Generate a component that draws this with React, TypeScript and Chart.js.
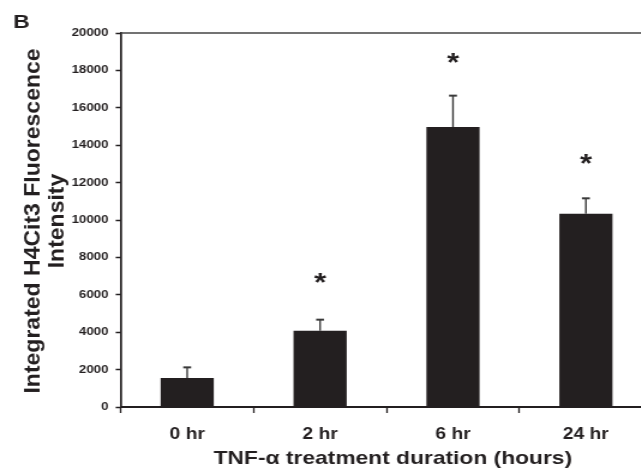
import React, { useEffect, useRef } from 'react';
import { Chart, registerables } from 'chart.js';

Chart.register(...registerables);

// ---- data ----
const categories = ['0 hr', '2 hr', '6 hr', '24 hr'];
const meanIntensity = [1550, 4080, 14970, 10330];
const semIntensity = [570, 590, 1680, 830];
const significanceMarkY: (number | null)[] = [null, 6880, 18650, 13250];
const yMin = 0;
const yMax = 20000;
const yStep = 2000;
const yTitleLines = ['Integrated H4Cit3 Fluorescence', 'Intensity'];
const xTitle = 'TNF-α treatment duration (hours)';

// ---- look ----
const STRETCH = 1.2; // the reference is horizontally stretched
const CW = 560;
const CH = 472;
const FONT = '"Liberation Sans", Arial, Helvetica, sans-serif';
const INK = '#231f20';

const decorPlugin = {
  id: 'decor',
  afterDatasetsDraw(chart: any) {
    const ctx = chart.ctx as CanvasRenderingContext2D;
    const xs = chart.scales.x;
    const ys = chart.scales.y;
    ctx.save();
    ctx.strokeStyle = '#3a3a3a';
    meanIntensity.forEach((v, i) => {
      const px = xs.getPixelForValue(i);
      const top = ys.getPixelForValue(v + semIntensity[i]);
      const base = ys.getPixelForValue(v);
      ctx.lineWidth = 1.4;
      ctx.beginPath();
      ctx.moveTo(px, base);
      ctx.lineTo(px, top);
      ctx.stroke();
      ctx.lineWidth = 2;
      ctx.beginPath();
      ctx.moveTo(px - 3.3, top);
      ctx.lineTo(px + 3.3, top);
      ctx.stroke();
    });
    ctx.fillStyle = INK;
    ctx.font = `bold 26px ${FONT}`;
    ctx.textAlign = 'center';
    ctx.textBaseline = 'alphabetic';
    const m = ctx.measureText('*');
    const off = (m.actualBoundingBoxAscent - m.actualBoundingBoxDescent) / 2;
    significanceMarkY.forEach((v, i) => {
      if (v == null) return;
      ctx.fillText('*', xs.getPixelForValue(i), ys.getPixelForValue(v) + off);
    });
    ctx.restore();
  },
  afterDraw(chart: any) {
    const ctx = chart.ctx as CanvasRenderingContext2D;
    const area = chart.chartArea;
    const ys = chart.scales.y;
    ctx.save();
    ctx.strokeStyle = '#444';
    ctx.lineWidth = 1.5;
    ctx.beginPath();
    ctx.moveTo(area.left, area.top);
    ctx.lineTo(chart.width, area.top);
    ctx.stroke();
    ctx.fillStyle = INK;
    ctx.font = `bold 19px ${FONT}`;
    ctx.textAlign = 'left';
    ctx.textBaseline = 'alphabetic';
    ctx.fillText('B', 11, 28);
    ctx.restore();

    // vertical y-axis title (compensating the horizontal stretch)
    const cy = (ys.top + ys.bottom) / 2 + 1;
    const lineXs = [27.5, 47.5];
    yTitleLines.forEach((line, i) => {
      ctx.save();
      ctx.translate(lineXs[i], cy);
      ctx.scale(1 / STRETCH, 1);
      ctx.rotate(-Math.PI / 2);
      ctx.fillStyle = INK;
      ctx.font = `bold 23px ${FONT}`;
      ctx.textAlign = 'center';
      ctx.textBaseline = 'middle';
      ctx.fillText(line, 0, 0);
      ctx.restore();
    });
  },
};

export default function App() {
  const ref = useRef<HTMLCanvasElement | null>(null);
  useEffect(() => {
    if (!ref.current) return;
    const chart = new Chart(ref.current, {
      type: 'bar',
      data: {
        labels: categories,
        datasets: [
          {
            data: meanIntensity,
            backgroundColor: INK,
            borderWidth: 0,
            barPercentage: 0.4,
            categoryPercentage: 1,
          },
        ],
      },
      options: {
        responsive: false,
        animation: false,
        layout: { padding: { top: 33, right: CW - 543.6, left: 0, bottom: 0 } },
        plugins: {
          legend: { display: false },
          tooltip: { enabled: false },
          title: { display: false },
        },
        scales: {
          x: {
            type: 'category',
            offset: true,
            grid: {
              display: true,
              offset: true,
              drawOnChartArea: false,
              drawTicks: true,
              tickLength: 6,
              tickWidth: 1.3,
              tickColor: INK,
            },
            border: { display: true, color: INK, width: 2 },
            ticks: {
              color: INK,
              font: { family: FONT, size: 16, weight: 'bold' },
              padding: 11.6,
              maxRotation: 0,
              autoSkip: false,
            },
            title: {
              display: true,
              text: '  ' + xTitle,
              color: INK,
              font: { family: FONT, size: 19, weight: 'bold' },
              padding: { top: 0, bottom: 2 },
            },
            afterFit: (s: any) => {
              s.height = 65;
            },
          },
          y: {
            min: yMin,
            max: yMax,
            grid: {
              display: true,
              drawOnChartArea: false,
              drawTicks: true,
              tickLength: 4.2,
              tickWidth: 1.5,
              tickColor: INK,
            },
            border: { display: true, color: INK, width: 1.7 },
            ticks: {
              stepSize: yStep,
              color: INK,
              font: { family: FONT, size: 11, weight: 'bold' },
              padding: 6.1,
              callback: (v: any) => String(v),
            },
            title: { display: false },
            afterFit: (s: any) => {
              s.width = 100.6;
            },
          },
        },
      },
      plugins: [decorPlugin],
    });
    return () => chart.destroy();
  }, []);

  return (
    <div
      style={{
        position: 'fixed',
        left: 0,
        top: 0,
        width: 641,
        height: 472,
        overflow: 'hidden',
        background: '#fff',
      }}
    >
      <canvas
        ref={ref}
        width={CW}
        height={CH}
        style={{ display: 'block', width: `${CW * STRETCH}px`, height: `${CH}px` }}
      />
    </div>
  );
}
